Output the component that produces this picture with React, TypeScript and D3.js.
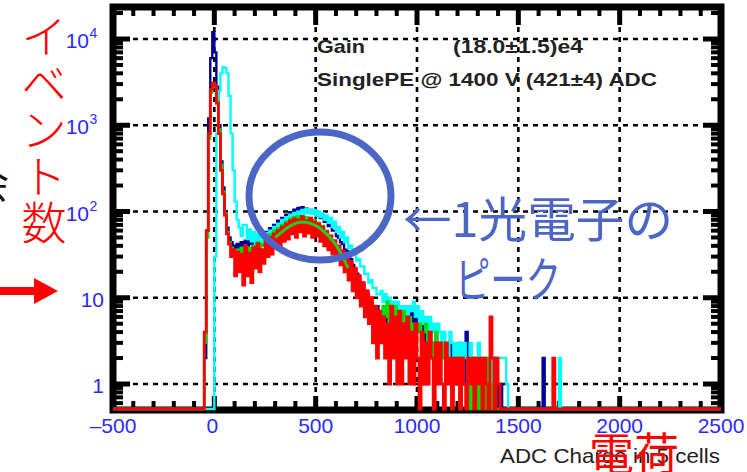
import React, { useEffect, useRef } from "react";
import * as d3 from "d3";

// histogram binning (ADC counts), bin i covers [binStart + i*binWidth, +binWidth)
const binStart = -50;
const binWidth = 10;

const xTicks = [-500, 0, 500, 1000, 1500, 2000, 2500];
const xTickLabels = ["–500", "0", "500", "1000", "1500", "2000", "2500"];
const yTicks = [1, 10, 100, 1000, 10000];
const yTickBase = ["1", "10", "10", "10", "10"];
const yTickExp = ["", "", "2", "3", "4"];

const navyCounts = [
  2, 60, 1200, 6000, 12000, 7000, 2800, 1000, 380, 190, 100, 65, 50, 44, 40, 38, 42, 36, 44, 38,
  46, 40, 48, 42, 50, 44, 52, 46, 54, 50, 58, 55, 64, 60, 70, 68, 78, 74, 84, 82,
  92, 88, 98, 96, 105, 100, 110, 104, 112, 106, 108, 100, 104, 96, 98, 90, 92, 84, 86, 76,
  78, 68, 70, 60, 60, 52, 50, 44, 42, 36, 35, 30, 28, 24, 22, 19, 17, 15, 14, 12,
  11, 10, 9, 8, 7, 8, 6, 7, 5, 6, 5, 7, 6, 8, 5, 7, 6, 8, 5, 7,
  6, 8, 5, 7, 4, 6, 4, 5, 3, 5, 3, 4, 3, 2, 4, 2, 3, 2, 3, 2,
  2, 3, 1, 2, 2, 1, 3, 2, 1, 4, 2, 1, 2, 0, 1, 2, 1, 0, 1, 1,
  1, 0, 1, 2, 1, 0, 1, 0, 0, 0, 0, 0, 0, 0, 0, 0, 0, 0, 0, 0,
  0, 0, 0, 0, 0, 0, 0, 2, 0, 0, 0, 0, 0, 0, 0, 0, 0, 0, 0, 0,
];

const cyanCounts = [
  0, 0, 0, 0, 0, 30, 800, 2500, 4000, 4700, 4600, 4000, 2200, 800, 300, 130, 80, 65, 52, 70,
  70, 48, 62, 45, 58, 44, 55, 42, 52, 45, 56, 46, 60, 52, 66, 58, 72, 64, 80, 70,
  86, 76, 92, 82, 96, 86, 100, 90, 104, 94, 106, 96, 105, 94, 104, 90, 100, 86, 95, 80,
  90, 74, 84, 66, 76, 58, 66, 50, 58, 44, 50, 38, 40, 33, 33, 27, 28, 23, 23, 19,
  19, 15, 16, 13, 13, 11, 11, 12, 9, 11, 8, 10, 7, 9, 8, 9, 6, 8, 7, 8,
  6, 8, 7, 9, 6, 8, 5, 7, 5, 6, 4, 6, 4, 5, 3, 5, 4, 3, 4, 3,
  2, 4, 3, 2, 3, 2, 3, 2, 3, 2, 2, 3, 2, 2, 1, 3, 2, 2, 1, 2,
  2, 1, 2, 2, 2, 2, 2, 2, 2, 1, 0, 0, 0, 0, 0, 0, 0, 0, 0, 0,
  0, 0, 0, 0, 0, 0, 0, 0, 0, 0, 0, 0, 0, 0, 0, 2, 0, 0, 0, 0,
];

const greenCounts = [
  3, 50, 700, 2400, 3100, 2800, 1900, 900, 350, 170, 95, 58, 44, 38, 34, 30, 36, 30, 38, 28,
  40, 32, 38, 30, 40, 34, 44, 36, 42, 40, 48, 46, 54, 52, 60, 58, 64, 62, 70, 68,
  76, 74, 82, 78, 86, 80, 88, 82, 88, 82, 86, 80, 84, 76, 80, 72, 74, 66, 68, 60,
  60, 52, 52, 45, 45, 38, 38, 32, 32, 27, 26, 22, 21, 18, 17, 15, 14, 12, 11, 10,
  10, 8, 9, 7, 8, 6, 7, 5, 8, 6, 9, 5, 7, 6, 8, 5, 6, 4, 7, 5,
  5, 6, 4, 5, 3, 4, 5, 3, 4, 5, 3, 4, 2, 3, 4, 2, 3, 2, 3, 2,
  2, 1, 2, 2, 1, 2, 0, 2, 1, 1, 2, 0, 1, 2, 1, 0, 2, 1, 1, 0,
  2, 1, 0, 2, 0, 0, 0, 0, 0, 0, 0, 0, 0, 0, 0, 0, 0, 0, 0, 0,
  0, 0, 0, 0, 0, 0, 0, 0, 0, 0, 0, 0, 0, 0, 0, 0, 0, 0, 0, 0,
];

const redCounts = [
  4, 60, 800, 2600, 3100, 2900, 1800, 800, 300, 160, 90, 55, 42, 30, 36, 18, 34, 20, 32, 14,
  40, 18, 33, 15, 38, 22, 42, 20, 36, 25, 45, 30, 50, 32, 55, 38, 60, 40, 66, 45,
  72, 48, 78, 55, 82, 50, 80, 58, 87, 52, 78, 56, 84, 50, 76, 52, 72, 45, 66, 40,
  58, 36, 52, 32, 46, 28, 40, 24, 35, 20, 30, 16, 26, 12, 22, 10, 18, 8, 15, 6,
  12, 5, 10, 3, 8, 2, 7, 3, 6, 2, 5, 1, 8, 2, 6, 1, 7, 1, 5, 2,
  6, 1, 4, 1, 5, 2, 0, 4, 1, 3, 1, 4, 2, 0, 3, 1, 3, 1, 0, 3,
  1, 2, 0, 2, 1, 2, 0, 2, 1, 0, 2, 1, 2, 0, 2, 1, 2, 0, 2, 1,
  0, 6, 2, 0, 2, 1, 0, 0, 0, 0, 0, 0, 0, 0, 0, 0, 0, 0, 0, 0,
  0, 0, 0, 0, 0, 0, 0, 0, 0, 0, 0, 0, 2, 0, 0, 0, 0, 0, 0, 0,
];

// fitted single-photoelectron peak
const fitX = [300, 330, 360, 390, 420, 450, 480, 510, 540, 570, 600, 630, 660];
const fitY = [50, 57, 65, 71, 75, 75, 72, 67, 59, 50, 41, 31, 22];

const statsLeft = ["Gain", "SinglePE @ 1400 V (421±4) ADC"];
const statsRight = ["(18.0±1.5)e4", ""];
const xTitle = "ADC Charge in 5 cells";
const yNote = "イベント数";
const xNote = "電荷";
const peakNote = ["←1光電子の", "ピーク"];

const series = [
  { counts: navyCounts, color: "#000099", width: 2.4 },
  { counts: cyanCounts, color: "#00ffff", width: 2.4 },
  { counts: greenCounts, color: "#00dd00", width: 2.4 },
  { counts: redCounts, color: "#ff0000", width: 2.8 },
];

export default function App() {
  const ref = useRef<SVGSVGElement>(null);

  useEffect(() => {
    const svg = d3.select(ref.current);
    svg.selectAll("*").remove();

    const x = d3.scaleLinear().domain([-500, 2500]).range([113, 721]);
    const y = d3.scaleLog().domain([0.513, 2.35e4]).range([409, 7]);
    const [x0, x1] = x.range();
    const [yb, yt] = y.range();

    svg.append("rect").attr("width", 747).attr("height", 472).attr("fill", "white");

    // grid
    const grid = svg.append("g").attr("stroke", "#000").attr("stroke-width", 2.6).attr("stroke-dasharray", "5,5");
    xTicks.slice(1, -1).forEach((t) => {
      grid.append("line").attr("x1", x(t)).attr("x2", x(t)).attr("y1", yt).attr("y2", yb);
    });
    yTicks.forEach((t) => {
      grid.append("line").attr("x1", x0).attr("x2", x1).attr("y1", y(t)).attr("y2", y(t));
    });

    // frame + ticks
    const fr = svg.append("g").attr("stroke", "#000");
    fr.append("rect").attr("x", x0).attr("y", yt).attr("width", x1 - x0).attr("height", yb - yt + 1)
      .attr("fill", "none").attr("stroke-width", 7);
    d3.range(-500, 2501, 100).forEach((t) => {
      const major = t % 500 === 0;
      fr.append("line").attr("x1", x(t)).attr("x2", x(t)).attr("y1", yb).attr("y2", yb - (major ? 13 : 8))
        .attr("stroke-width", major ? 5 : 4);
      fr.append("line").attr("x1", x(t)).attr("x2", x(t)).attr("y1", yt).attr("y2", yt + (major ? 18 : 9))
        .attr("stroke-width", major ? 5 : 4);
    });
    const yMinor: number[] = [];
    [0.1, 1, 10, 100, 1000, 10000].forEach((d) => {
      for (let k = 1; k <= 9; k++) {
        const v = d * k;
        if (v >= 0.513 && v <= 2.35e4) yMinor.push(v);
      }
    });
    yMinor.forEach((v) => {
      const major = yTicks.includes(v);
      fr.append("line").attr("x1", x0).attr("x2", x0 + (major ? 17 : 10)).attr("y1", y(v)).attr("y2", y(v))
        .attr("stroke-width", major ? 5 : 4);
      fr.append("line").attr("x1", x1).attr("x2", x1 - (major ? 18 : 10)).attr("y1", y(v)).attr("y2", y(v))
        .attr("stroke-width", major ? 5 : 4);
    });

    // histograms
    const yv = (c: number) => (c > 0 ? y(c) : yb);
    const line = d3.line<[number, number]>();
    series.forEach((s) => {
      const pts: [number, number][] = [[x0, yb], [x(binStart), yb]];
      s.counts.forEach((c, i) => {
        const lo = binStart + i * binWidth;
        pts.push([x(lo), yv(c)], [x(lo + binWidth), yv(c)]);
      });
      pts.push([x(binStart + s.counts.length * binWidth), yb], [x1, yb]);
      svg.append("path").attr("d", line(pts)).attr("fill", "none")
        .attr("stroke", s.color).attr("stroke-width", s.width);
    });

    // fit curve
    const fitLine = d3.line<number>().x((d, i) => x(fitX[i])).y((d) => y(d)).curve(d3.curveMonotoneX);
    svg.append("path").attr("d", fitLine(fitY)).attr("fill", "none").attr("stroke", "#22cc22").attr("stroke-width", 3);

    // stats text
    const st = svg.append("g").attr("font-family", "Liberation Sans, Arial, sans-serif")
      .attr("font-weight", "bold").attr("font-size", 19).attr("fill", "#222");
    st.append("text").attr("x", 317).attr("y", 53).attr("textLength", 48)
      .attr("lengthAdjust", "spacingAndGlyphs").text(statsLeft[0]);
    st.append("text").attr("x", 453).attr("y", 53).attr("textLength", 130)
      .attr("lengthAdjust", "spacingAndGlyphs").text(statsRight[0]);
    st.append("text").attr("x", 317).attr("y", 86).attr("textLength", 340)
      .attr("lengthAdjust", "spacingAndGlyphs").text(statsLeft[1]);

    // tick labels
    const tl = svg.append("g").attr("font-family", "Liberation Sans, Arial, sans-serif").attr("fill", "#2a2aff");
    xTicks.forEach((t, i) => {
      tl.append("text").attr("x", x(t) - (t === 0 ? 2 : 0)).attr("y", 433).attr("font-size", 21)
        .attr("text-anchor", "middle").text(xTickLabels[i]);
    });
    yTicks.forEach((t, i) => {
      const yy = y(t) + 9;
      if (yTickExp[i]) {
        tl.append("text").attr("x", 89).attr("y", yy).attr("font-size", 21).attr("text-anchor", "end").text(yTickBase[i]);
        tl.append("text").attr("x", 89.5).attr("y", yy - 10).attr("font-size", 14).text(yTickExp[i]);
      } else {
        tl.append("text").attr("x", 104).attr("y", yy).attr("font-size", 21).attr("text-anchor", "end").text(yTickBase[i]);
      }
    });

    // axis title
    svg.append("text").attr("x", 720).attr("y", 463).attr("text-anchor", "end")
      .attr("font-family", "Liberation Sans, Arial, sans-serif").attr("font-size", 21).attr("fill", "#222")
      .attr("textLength", 220).attr("lengthAdjust", "spacingAndGlyphs")
      .text(xTitle);

    // hidden original y title fragment
    svg.append("text").attr("x", 9).attr("y", 198).attr("text-anchor", "end")
      .attr("font-family", "Noto Sans CJK JP").attr("font-size", 40).attr("fill", "#111").text("会");

    // annotations
    const cjk = "Noto Sans CJK JP, sans-serif";
    const blue = "#4c66c6";
    svg.append("ellipse").attr("cx", 320).attr("cy", 196).attr("rx", 71).attr("ry", 64)
      .attr("fill", "none").attr("stroke", blue).attr("stroke-width", 7);
    svg.append("text").attr("x", 403).attr("y", 237).attr("font-family", cjk).attr("font-size", 48)
      .attr("fill", blue).attr("textLength", 270).attr("lengthAdjust", "spacingAndGlyphs").text(peakNote[0]);
    svg.append("text").attr("x", 455).attr("y", 297).attr("font-family", cjk).attr("font-size", 48)
      .attr("fill", blue).attr("textLength", 106).attr("lengthAdjust", "spacingAndGlyphs").text(peakNote[1]);

    const red = "#ff0000";
    yNote.split("").forEach((ch, i) => {
      svg.append("text").attr("x", 44).attr("y", 54 + i * 46.5).attr("text-anchor", "middle")
        .attr("font-family", cjk).attr("font-size", 45).attr("font-weight", 300).attr("fill", red).text(ch);
    });
    svg.append("text").attr("x", 589).attr("y", 471).attr("font-family", cjk).attr("font-size", 45)
      .attr("fill", red).text(xNote);
    svg.append("line").attr("x1", 0).attr("x2", 38).attr("y1", 291).attr("y2", 291)
      .attr("stroke", red).attr("stroke-width", 8);
    svg.append("path").attr("d", "M34,278 L58,291 L34,304 Z").attr("fill", red);
  }, []);

  return (
    <svg ref={ref} width={747} height={472}
      style={{ position: "absolute", left: 0, top: 0, display: "block" }} />
  );
}
